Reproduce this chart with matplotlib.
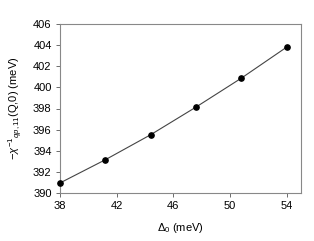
import matplotlib
matplotlib.use("Agg")
import matplotlib.pyplot as plt

delta0 = [38.0, 41.2, 44.4, 47.6, 50.8, 54.0]
chi_inv = [390.95, 393.15, 395.52, 398.14, 400.88, 403.82]
xticks = [38, 42, 46, 50, 54]
yticks = [390, 392, 394, 396, 398, 400, 402, 404, 406]

plt.rcParams['font.family'] = ['Liberation Sans', 'DejaVu Sans']
plt.rcParams['mathtext.fontset'] = 'custom'
plt.rcParams['mathtext.rm'] = 'Liberation Sans'
plt.rcParams['mathtext.it'] = 'Liberation Sans:italic'

fig = plt.figure(figsize=(3.14, 2.41), dpi=100)
ax = fig.add_axes([60/314, 1-193/241, 241/314, 169/241])
ax.plot(delta0, chi_inv, '-', color='#444444', lw=0.8,
        marker='o', ms=3.8, mfc='black', mec='black', clip_on=False, zorder=3)
ax.set_xlim(38, 55)
ax.set_ylim(390, 406)
ax.set_xticks(xticks)
ax.set_yticks(yticks)
ax.tick_params(axis='both', direction='out', length=3, width=0.6, labelsize=8,
               color='#555555', pad=3, top=False, right=False)
for s in ax.spines.values():
    s.set_color('#888888')
    s.set_linewidth(0.8)
ax.set_xlabel(r'$\Delta_0$ (meV)', fontsize=8, labelpad=7)
ax.set_ylabel(r'$-\chi^{-1}{}_{qp,11}$(Q,0) (meV)', fontsize=8, labelpad=6)
fig.savefig('out.png', dpi=100)
